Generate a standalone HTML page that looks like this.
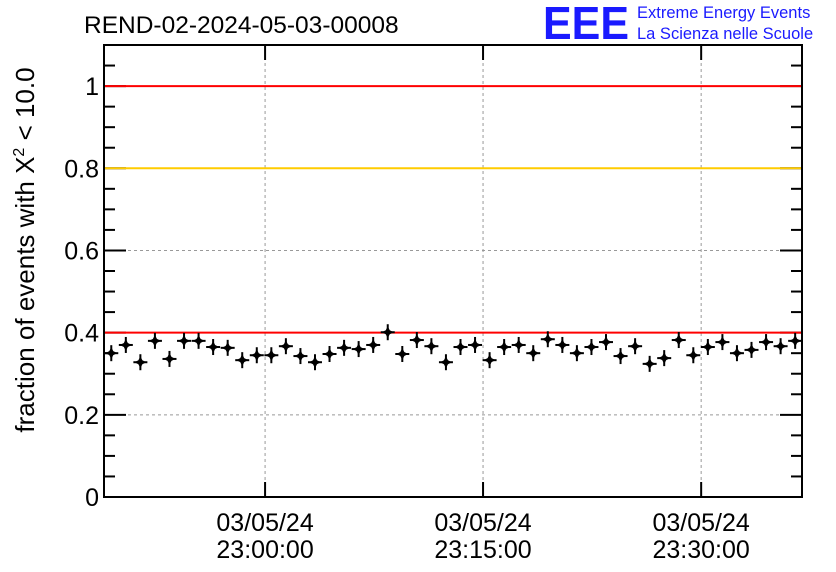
<!DOCTYPE html>
<html><head><meta charset="utf-8"><style>body{margin:0;background:#fff}svg{display:block;font-family:"Liberation Sans",sans-serif}</style></head>
<body>
<svg id="chart" width="836" height="572">
<text x="84" y="33" font-size="24.5">REND-02-2024-05-03-00008</text>
<g>
<text x="543" y="39" font-size="46" font-weight="bold" fill="#1a1aff" textLength="86" lengthAdjust="spacingAndGlyphs">EEE</text>
<text x="637" y="18" font-size="16.5" fill="#1a1aff">Extreme Energy Events</text>
<text x="637" y="39" font-size="16.5" fill="#1a1aff">La Scienza nelle Scuole</text>
</g>
<text transform="translate(34,250) rotate(-90)" text-anchor="middle" font-size="26">fraction of events with X<tspan dy="-10" font-size="16">2</tspan><tspan dy="10"> &lt; 10.0</tspan></text>
<g id="grid"></g><g id="axes"></g><g id="refs"></g><g id="marks"></g>
<rect x="104" y="45" width="698" height="452" fill="none" stroke="#000" stroke-width="2"/>
</svg>
<script>
const values=[.350,.370,.328,.380,.336,.380,.380,.365,.363,.333,.345,.345,.367,.343,.328,.348,.363,.360,.370,.401,.348,.382,.367,.328,.365,.370,.333,.365,.370,.350,.384,.370,.350,.365,.377,.343,.367,.324,.338,.382,.345,.365,.377,.350,.358,.377,.367,.380];
const yTicks=[0,0.2,0.4,0.6,0.8,1];
const yTickLabels=["0","0.2","0.4","0.6","0.8","1"];
const refLines=[1,0.8,0.4];
const refColors=["#ff0000","#ffcc00","#ff0000"];
const xTickMinutes=[11.07,26.05,41.04];
const xTickLabels=[["03/05/24","23:00:00"],["03/05/24","23:15:00"],["03/05/24","23:30:00"]];
const NS="http://www.w3.org/2000/svg";
const X0=104,X1=802,Y0=497,Y1=45,YMAX=1.1,NMIN=47.97;
const ys=v=>Y0-(v/YMAX)*(Y0-Y1);
const xs=m=>X0+(m/NMIN)*(X1-X0);
function mk(tag,parent,attrs){const e=document.createElementNS(NS,tag);for(const k in attrs)e.setAttribute(k,attrs[k]);parent.appendChild(e);return e;}
const grid=document.getElementById('grid'),axes=document.getElementById('axes'),refs=document.getElementById('refs'),marks=document.getElementById('marks');
yTicks.forEach((t,i)=>{
  if(t>0&&t<1){const g=mk('line',grid,{x1:X0,x2:X1,y1:ys(t),y2:ys(t),stroke:'#999','stroke-dasharray':'3,3'});
  
  }
  const l=mk('text',axes,{x:X0-5,y:ys(t)+9,'text-anchor':'end','font-size':25});
  l.textContent=yTickLabels[i];
  
  
});
for(let v=0;v<=1.1001;v+=0.05){
  const major=Math.abs(v/0.2-Math.round(v/0.2))<1e-6;const len=major?22:11;
  mk('line',axes,{x1:X0,x2:X0+len,y1:ys(v),y2:ys(v),stroke:'#000','stroke-width':2});
  mk('line',axes,{x1:X1,x2:X1-len,y1:ys(v),y2:ys(v),stroke:'#000','stroke-width':2});
}
xTickMinutes.forEach((m,i)=>{
  mk('line',axes,{x1:xs(m),x2:xs(m),y1:Y0,y2:Y0-15,stroke:'#000','stroke-width':2});
  mk('line',axes,{x1:xs(m),x2:xs(m),y1:Y1,y2:Y1+15,stroke:'#000','stroke-width':2});
  const g=mk('line',grid,{x1:xs(m),x2:xs(m),y1:Y1,y2:Y0,stroke:'#999','stroke-dasharray':'3,3'});
  
  
  const t=mk('text',axes,{x:xs(m),y:531,'text-anchor':'middle','font-size':25});
  t.textContent=xTickLabels[i][0];
  
  
  const t2=mk('text',axes,{x:xs(m),y:558,'text-anchor':'middle','font-size':25});
  t2.textContent=xTickLabels[i][1];
  
  
});
refLines.forEach((v,i)=>{
  const l=mk('line',refs,{x1:X0,x2:X1,y1:ys(v),y2:ys(v),stroke:refColors[i],'stroke-width':2});
  
  
});
values.forEach((v,i)=>{
  const cx=xs(i+0.5),cy=ys(v);
  const g=mk('g',marks,{});
  
  
  mk('line',g,{x1:cx-7,x2:cx+7,y1:cy,y2:cy,stroke:'#000','stroke-width':2});
  mk('line',g,{x1:cx,x2:cx,y1:cy-8,y2:cy+8,stroke:'#000','stroke-width':2});
  mk('path',g,{d:`M${cx} ${cy-6}L${cx+2} ${cy-2}L${cx+6} ${cy}L${cx+2} ${cy+2}L${cx} ${cy+6}L${cx-2} ${cy+2}L${cx-6} ${cy}L${cx-2} ${cy-2}Z`,fill:'#000'});
});
</script>
</body></html>
